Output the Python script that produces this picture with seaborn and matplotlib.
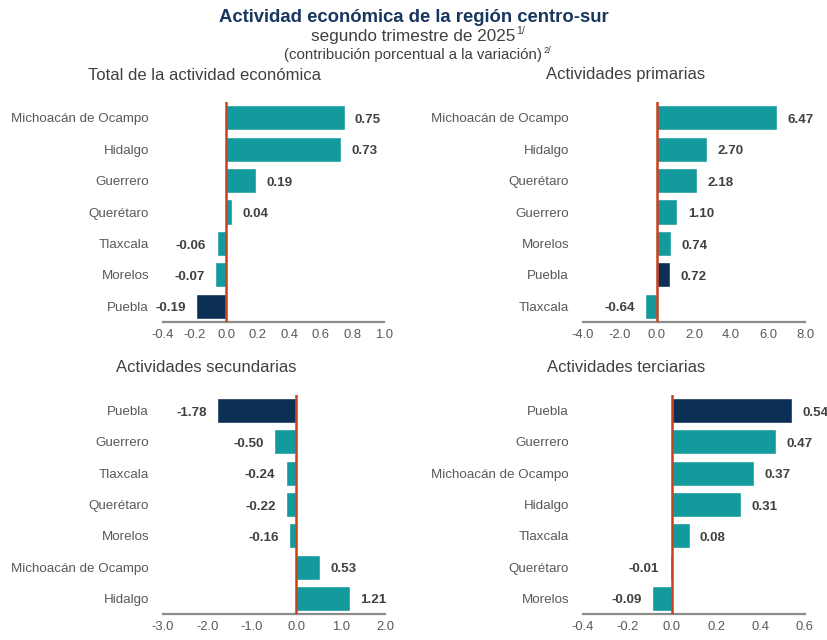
import matplotlib
matplotlib.use("Agg")
import matplotlib.pyplot as plt
import seaborn as sns
import pandas as pd

# datos por panel (orden de arriba hacia abajo)
cats_total = ["Michoacán de Ocampo", "Hidalgo", "Guerrero", "Querétaro", "Tlaxcala", "Morelos", "Puebla"]
vals_total = [0.75, 0.73, 0.19, 0.04, -0.06, -0.07, -0.19]

cats_prim = ["Michoacán de Ocampo", "Hidalgo", "Querétaro", "Guerrero", "Morelos", "Puebla", "Tlaxcala"]
vals_prim = [6.47, 2.70, 2.18, 1.10, 0.74, 0.72, -0.64]

cats_sec = ["Puebla", "Guerrero", "Tlaxcala", "Querétaro", "Morelos", "Michoacán de Ocampo", "Hidalgo"]
vals_sec = [-1.78, -0.50, -0.24, -0.22, -0.16, 0.53, 1.21]

cats_ter = ["Puebla", "Guerrero", "Michoacán de Ocampo", "Hidalgo", "Tlaxcala", "Querétaro", "Morelos"]
vals_ter = [0.54, 0.47, 0.37, 0.31, 0.08, -0.01, -0.09]

ticks_total = [-0.4, -0.2, 0.0, 0.2, 0.4, 0.6, 0.8, 1.0]
ticks_prim = [-4.0, -2.0, 0.0, 2.0, 4.0, 6.0, 8.0]
ticks_sec = [-3.0, -2.0, -1.0, 0.0, 1.0, 2.0]
ticks_ter = [-0.4, -0.2, 0.0, 0.2, 0.4, 0.6]

titles = ["Total de la actividad económica", "Actividades primarias",
          "Actividades secundarias", "Actividades terciarias"]

TEAL = "#129a9c"
NAVY = "#0b2f55"
RED = "#c8401c"
GREY = "#595959"
DARK = "#404040"

sns.set_theme(style="white")
plt.rcParams["font.family"] = ["Liberation Sans", "DejaVu Sans"]

fig = plt.figure(figsize=(8.27, 6.40), dpi=100)

W, H = 827, 640
def pos(x0, x1, ytop, ybot):
    return [x0 / W, 1 - ybot / H, (x1 - x0) / W, (ybot - ytop) / H]

panels = [
    (cats_total, vals_total, ticks_total, pos(163, 384, 102, 322), (205, 75)),
    (cats_prim, vals_prim, ticks_prim, pos(583, 805, 102, 322), (626, 75)),
    (cats_sec, vals_sec, ticks_sec, pos(163, 385, 395, 614), (206, 367)),
    (cats_ter, vals_ter, ticks_ter, pos(583, 805, 395, 614), (626, 367)),
]

for (cats, vals, ticks, rect, tpos), title in zip(panels, titles):
    ax = fig.add_axes(rect)
    df = pd.DataFrame({"estado": cats, "valor": vals})
    pal = {c: (NAVY if c == "Puebla" else TEAL) for c in cats}
    sns.barplot(data=df, x="valor", y="estado", hue="estado", palette=pal,
                legend=False, ax=ax, width=0.8, saturation=1, orient="h")
    ax.set_xlim(ticks[0], ticks[-1])
    ax.set_ylim(len(cats) - 0.5, -0.5)
    ax.set_xticks(ticks)
    ax.set_xticklabels([f"{t:.1f}" for t in ticks])
    ax.set_xlabel("")
    ax.set_ylabel("")
    ax.axvline(0, color=RED, lw=1.8, zorder=5)
    for s in ["top", "right", "left"]:
        ax.spines[s].set_visible(False)
    ax.spines["bottom"].set_color("#8c8c8c")
    ax.spines["bottom"].set_linewidth(1.6)
    ax.tick_params(axis="x", length=0, pad=5, labelsize=9.4, labelcolor=GREY)
    ax.tick_params(axis="y", length=0, pad=10, labelsize=9.6, labelcolor=GREY)
    for i, v in enumerate(vals):
        off = 7.5 if v >= 0 else -7.5
        ax.annotate(f"{v:.2f}", xy=(v, i), xytext=(off, -1.5), textcoords="offset points",
                    ha="left" if v >= 0 else "right", va="center",
                    fontsize=9.6, fontweight="bold", color=DARK, annotation_clip=False)
    fig.text(tpos[0] / W, 1 - tpos[1] / H, title, ha="center", va="center",
             fontsize=12, color=DARK)

fig.text(0.5, 1 - 17 / H, "Actividad económica de la región centro-sur", ha="center",
         va="center", fontsize=13.3, fontweight="bold", color="#17375e")

# subtitulos con superindices como textos aparte
renderer = fig.canvas.get_renderer()
for txt, sup, y, fs in [("segundo trimestre de 2025", "1/", 37, 12.3),
                        ("(contribución porcentual a la variación)", "2/", 55, 10.8)]:
    t = fig.text(0.5, 1 - y / H, txt, ha="center", va="center", fontsize=fs, color=DARK)
    bb = t.get_window_extent(renderer)
    fig.text((bb.x1 + 1) / W, 1 - (y - fs * 0.45) / H, sup, ha="left", va="center",
             fontsize=fs * 0.62, color=DARK)

fig.savefig("out.png", dpi=100)
